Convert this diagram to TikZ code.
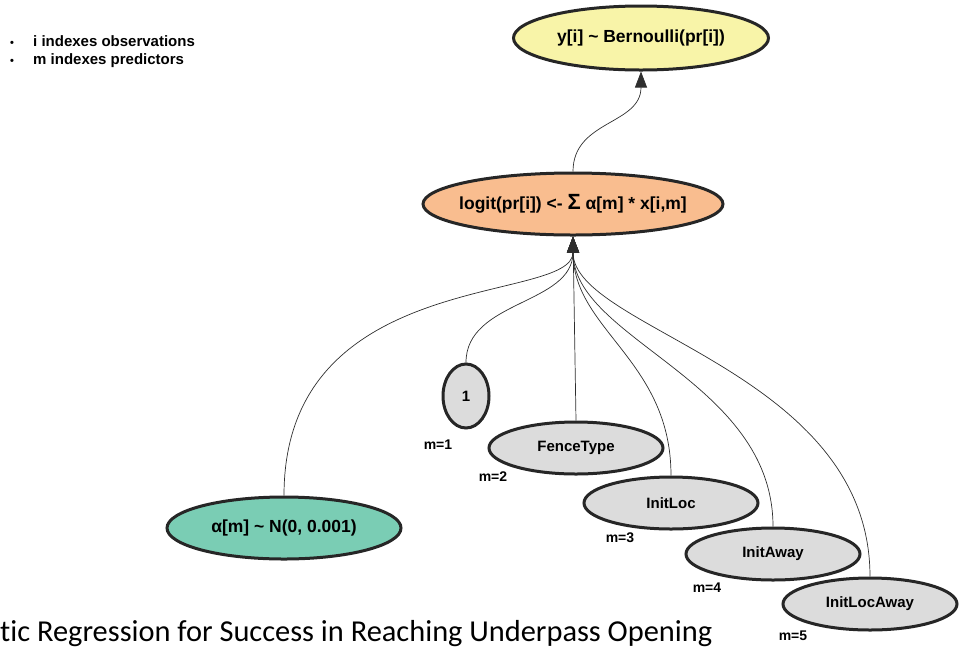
\documentclass[tikz,border=0pt]{standalone}
\usepackage{fontspec}
\setmainfont{Liberation Sans}
\newfontfamily\capfont[Ligatures=NoCommon]{Carlito}
\usepackage{xcolor}
\usepackage{tikz}
\usetikzlibrary{arrows.meta, shapes.geometric, calc}
\definecolor{ink}{HTML}{262626}
\definecolor{wire}{HTML}{2E2E2E}
\definecolor{likeli}{HTML}{F8F4A8}
\definecolor{linpred}{HTML}{F9BD8F}
\definecolor{prior}{HTML}{7ACDB4}
\definecolor{covar}{HTML}{DCDCDC}
\newcommand{\ctr}[1]{\makebox[0pt]{#1}}
\newcommand{\bul}{\makebox[23pt][l]{\fontsize{11pt}{11pt}\selectfont •}}

\begin{document}
\begin{tikzpicture}[x=1pt, y=-1pt, font=\bfseries\fontsize{17.5pt}{20pt}\selectfont]
    \tikzset{
      bub/.style={ellipse, draw=ink, line width=3pt, inner sep=0pt, text=black},
      lik/.style={bub, fill=likeli, minimum width=255pt, minimum height=64pt},
      lin/.style={bub, fill=linpred, minimum width=300pt, minimum height=62pt},
      pri/.style={bub, fill=prior, minimum width=234pt, minimum height=62pt},
      cov/.style={bub, fill=covar, minimum width=174pt, minimum height=52pt,
                  font=\bfseries\fontsize{15pt}{17pt}\selectfont},
      mlbl/.style={inner sep=0pt, font=\bfseries\fontsize{14pt}{16pt}\selectfont},
      f/.style={draw=wire, line width=0.7pt, -{Triangle[length=16pt, width=12pt]}}
    }
    \useasboundingbox (0,0) rectangle (959,649);
    % legend
    \node[anchor=west, inner sep=0pt, align=left,
          font=\bfseries\fontsize{15pt}{18pt}\selectfont] (legend) at (10,52)
      {\bul i indexes observations\\ \bul m indexes predictors};
    % model nodes
    \node[lik] (yi) at (641,38) {\ctr{y[i] \textasciitilde{} Bernoulli(pr[i])}};
    \node[lin] (logit) at (573,204)
      {\ctr{logit(pr[i]) <- {\fontsize{22pt}{22pt}\selectfont Σ} α[m] * x[i,m]}};
    \node[pri] (alpha) at (284,528) {\ctr{α[m] \textasciitilde{} N(0, 0.001)}};
    \node[cov, minimum width=46pt, minimum height=64pt] (one) at (466,396) {\ctr{1}};
    \node[cov] (fence) at (576,448) {\ctr{FenceType}};
    \node[cov] (iloc) at (671,503) {\ctr{InitLoc}};
    \node[cov] (iaway) at (773,554) {\ctr{InitAway}};
    \node[cov] (ilocaway) at (870,604) {\ctr{InitLocAway}};
    % index labels
    \node[mlbl] (m1) at (438,445) {m=1};
    \node[mlbl] (m2) at (493,477) {m=2};
    \node[mlbl] (m3) at (620,538) {m=3};
    \node[mlbl] (m4) at (707,588) {m=4};
    \node[mlbl] (m5) at (793,636) {m=5};
    % edges
    \draw[f] (logit.north) .. controls (573,120) and (641,125) .. (yi.south);
    \draw[f] (alpha.north) .. controls (284,265) and (573,305) .. (logit.south);
    \draw[f] (one.north) .. controls (466,300) and (573,305) .. (logit.south);
    \draw[f] (fence.north) -- (logit.south);
    \draw[f] (iloc.north) .. controls (671,360) and (573,330) .. (logit.south);
    \draw[f] (iaway.north) .. controls (773,380) and (573,340) .. (logit.south);
    \draw[f] (ilocaway.north) .. controls (870,370) and (573,330) .. (logit.south);
    % caption
    \node[anchor=base west, inner sep=0pt, font=\capfont\fontsize{30.4pt}{32pt}\selectfont]
      (caption) at (0,641) {tic Regression for Success in Reaching Underpass Opening};
  \end{tikzpicture}
\end{document}
